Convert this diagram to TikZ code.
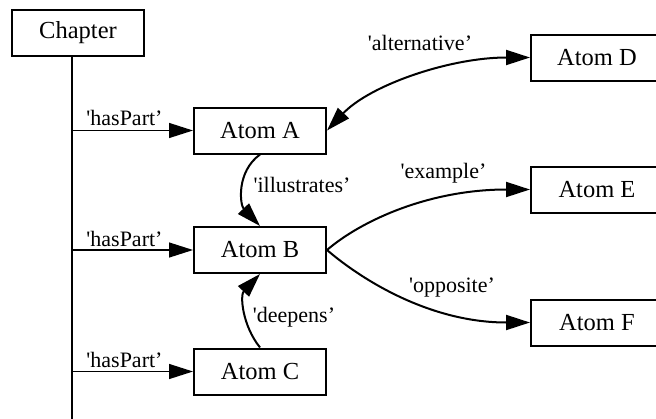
\documentclass[tikz,border=0pt]{standalone}
\usepackage{fontspec}
\setmainfont{Liberation Serif}
\usetikzlibrary{arrows.meta}
\begin{document}
\begin{tikzpicture}[x=1pt,y=-1pt,
  box/.style={draw,line width=2pt,minimum width=132pt,minimum height=46pt,inner sep=0pt,font=\fontsize{24.5}{26}\selectfont},
  lbl/.style={inner sep=0pt,font=\fontsize{22}{24}\selectfont},
  tip/.style={-{Triangle[length=24pt,width=15pt]}},
  curve/.style={line width=2pt},
  part/.style={line width=1.3pt}]
\useasboundingbox (0,0) rectangle (656,418);
\clip (0,0) rectangle (656,418);
\node[box] (ch) at (78,32.5) {Chapter};
\node[box] (A) at (260,130.5) {Atom A};
\node[box] (B) at (260,250) {Atom B};
\node[box] (C) at (260,371.5) {Atom C};
\node[box] (D) at (597,57.5) {Atom D};
\node[box] (E) at (597,189.5) {Atom E};
\node[box] (F) at (597,322.5) {Atom F};
\coordinate (vb) at (72,420);
\coordinate (pA) at (72,130.5);
\coordinate (pB) at (72,250);
\coordinate (pC) at (72,371.5);
\draw[part] (ch.south -| vb) -- (vb);
\draw[part,tip] (pA) -- (A.west);
\draw[part,tip] (pB) -- (B.west);
\draw[part,tip] (pC) -- (C.west);
\node[lbl] (lA) at (124.5,118) {\textquotesingle hasPart'};
\node[lbl] (lB) at (124.5,239) {\textquotesingle hasPart'};
\node[lbl] (lC) at (124.5,360) {\textquotesingle hasPart'};
\draw[curve,{Triangle[length=24pt,width=15pt]}-{Triangle[length=24pt,width=15pt]}] (D.west) .. controls (450,57.5) and (370,85) .. (A.east);
\node[lbl] (lalt) at (420,43) {\textquotesingle alternative'};
\draw[curve,tip] (A.south) .. controls (236,172) and (240,205) .. (B.north);
\node[lbl] (lill) at (302,185) {\textquotesingle illustrates'};
\draw[curve,tip] (C.north) .. controls (242,325) and (240,295) .. (B.south);
\node[lbl] (ldeep) at (294,317) {\textquotesingle deepens'};
\draw[curve,tip] (B.east) .. controls (362,220) and (430,189.5) .. (E.west);
\node[lbl] (lex) at (443.5,173) {\textquotesingle example'};
\draw[curve,tip] (B.east) .. controls (362,280) and (430,322.5) .. (F.west);
\node[lbl] (lop) at (452,288) {\textquotesingle opposite'};
\end{tikzpicture}
\end{document}
